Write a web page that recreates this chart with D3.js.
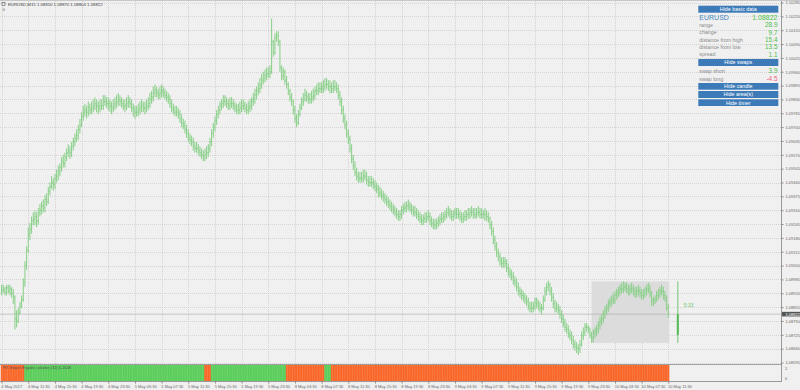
<!DOCTYPE html>
<html><head><meta charset="utf-8">
<script src="https://cdn.jsdelivr.net/npm/d3@7/dist/d3.min.js"></script>
<style>html,body{margin:0;padding:0;background:#f0f0f0;overflow:hidden}svg{display:block}text{font-family:"Liberation Sans",Arial,sans-serif}</style>
</head><body><svg id="c" width="800" height="390"></svg>
<script>
// ---------------- DATA ----------------
const symbol = "EURUSD", timeframe = "M15";
const titleOHLC = ["1.08850", "1.08870", "1.08804", "1.08822"];
const firstOpen = 1.0893;
const closes = [
1.08935,1.0894,1.08925,1.08945,1.0893,1.0894,1.0892,1.0890,1.0880,1.0879,
1.0883,1.0886,1.0889,1.0897,1.0905,1.0912,1.0920,1.0922,1.0926,1.0927,
1.0928,1.0926,1.0930,1.0931,1.0933,1.0932,1.0936,1.0935,1.0940,1.0942,
1.0944,1.0943,1.0946,1.0947,1.0949,1.0951,1.0954,1.0953,1.0956,1.0958,
1.0959,1.0958,1.0961,1.0963,1.0965,1.0966,1.0969,1.0971,1.0975,1.0977,
1.0978,1.0977,1.0979,1.0978,1.0979,1.0980,1.0981,1.0980,1.0979,1.0980,
1.0980,1.0982,1.0982,1.0981,1.0981,1.0980,1.0979,1.0980,1.0981,1.0982,
1.0983,1.0982,1.0981,1.0980,1.0980,1.0981,1.0982,1.0981,1.0979,1.0978,
1.0977,1.0977,1.0978,1.0979,1.0980,1.0979,1.0979,1.0980,1.0981,1.0983,
1.0984,1.0986,1.0987,1.0986,1.0985,1.0986,1.0987,1.0986,1.0985,1.0984,
1.0983,1.0981,1.0979,1.0978,1.0977,1.0977,1.0976,1.0974,1.0972,1.0971,
1.0969,1.0967,1.0965,1.0964,1.0963,1.0961,1.0960,1.0960,1.0959,1.0958,
1.0957,1.0956,1.0957,1.0958,1.0960,1.0963,1.0967,1.0970,1.0973,1.0976,
1.0978,1.0980,1.0981,1.0982,1.0982,1.0981,1.0980,1.0981,1.0981,1.0980,
1.0979,1.0978,1.0978,1.0979,1.0980,1.0980,1.0979,1.0978,1.0979,1.0980,
1.0982,1.0983,1.0985,1.0987,1.0988,1.0990,1.0992,1.0993,1.0994,1.0995,
1.0995,1.0996,1.1010,1.1005,1.1012,1.1013,1.1010,1.0998,1.0994,1.0996,
1.0992,1.0990,1.0987,1.0984,1.0982,1.0978,1.0974,1.0972,1.0976,1.0979,
1.0982,1.0983,1.0985,1.0984,1.0983,1.0983,1.0984,1.0985,1.0987,1.0987,
1.0988,1.0988,1.0988,1.0989,1.0990,1.0990,1.0989,1.0989,1.0988,1.0989,
1.0989,1.0988,1.0985,1.0982,1.0978,1.0974,1.0971,1.0967,1.0964,1.0960,
1.0955,1.0952,1.0949,1.0947,1.0946,1.0946,1.0946,1.0947,1.0947,1.0945,
1.0944,1.0944,1.0944,1.0943,1.0942,1.0941,1.0939,1.0939,1.0938,1.0937,
1.0936,1.0935,1.0934,1.0933,1.0932,1.0931,1.0930,1.0929,1.0928,1.0929,
1.0931,1.0932,1.0932,1.0933,1.0933,1.0932,1.0931,1.0930,1.0930,1.0929,
1.0928,1.0927,1.0926,1.0927,1.0927,1.0928,1.0928,1.0926,1.0925,1.0924,
1.0924,1.0925,1.0926,1.0927,1.0927,1.0928,1.0929,1.0930,1.0930,1.0929,
1.0928,1.0929,1.0930,1.0929,1.0929,1.0928,1.0927,1.0928,1.0928,1.0929,
1.0929,1.0930,1.0930,1.0929,1.0929,1.0930,1.0930,1.0929,1.0929,1.0929,
1.0929,1.0928,1.0927,1.0924,1.0921,1.0917,1.0914,1.0911,1.0909,1.0907,
1.0906,1.0907,1.0906,1.0904,1.0902,1.0901,1.0900,1.0898,1.0897,1.0895,
1.0893,1.0892,1.0891,1.0890,1.0889,1.0888,1.0886,1.0885,1.0885,1.0886,
1.0888,1.0887,1.0886,1.0885,1.0885,1.0889,1.0893,1.0895,1.0896,1.0893,
1.0890,1.0887,1.0885,1.0885,1.0884,1.0882,1.0880,1.0878,1.0876,1.0875,
1.0873,1.0872,1.0870,1.0868,1.0867,1.0866,1.0866,1.0868,1.0872,1.0874,
1.0876,1.0876,1.0875,1.08725,1.0871,1.0873,1.0874,1.0875,1.0877,1.0879,
1.0880,1.0882,1.0884,1.0885,1.0887,1.0888,1.0889,1.0889,1.0891,1.0892,
1.0893,1.0894,1.0894,1.0895,1.0895,1.0894,1.0893,1.0894,1.0894,1.0893,
1.0892,1.0893,1.0893,1.0892,1.0891,1.0892,1.0893,1.0894,1.0894,1.0892,
1.0889,1.0888,1.0889,1.0891,1.0892,1.0893,1.0893,1.0891,1.0890,1.0885,
1.08822];
const highs = [
1.0896,1.0896,1.0895,1.0896,1.0896,1.0896,1.0895,1.0894,1.0891,1.0884,
1.0885,1.0888,1.0891,1.0899,1.0907,1.0914,1.0923,1.0925,1.0928,1.0930,
1.0931,1.0930,1.0932,1.0934,1.0935,1.0936,1.0938,1.0939,1.0942,1.0944,
1.0947,1.0946,1.0948,1.0950,1.0952,1.0953,1.0956,1.0957,1.0958,1.0960,
1.0962,1.0961,1.0963,1.0965,1.0967,1.0969,1.0971,1.0974,1.0977,1.0980,
1.0981,1.0980,1.0982,1.0981,1.0982,1.0983,1.0984,1.0983,1.0982,1.0983,
1.0983,1.0985,1.0985,1.0984,1.0984,1.0983,1.0982,1.0983,1.0984,1.0985,
1.0986,1.0985,1.0984,1.0983,1.0983,1.0984,1.0985,1.0984,1.0983,1.0981,
1.0980,1.0980,1.0981,1.0982,1.0983,1.0982,1.0982,1.0983,1.0984,1.0986,
1.0987,1.0989,1.0990,1.0989,1.0988,1.0989,1.0990,1.0989,1.0988,1.0987,
1.0986,1.0985,1.0983,1.0981,1.0980,1.0980,1.0979,1.0978,1.0976,1.0974,
1.0973,1.0971,1.0969,1.0967,1.0966,1.0965,1.0963,1.0963,1.0962,1.0961,
1.0960,1.0959,1.0960,1.0961,1.0962,1.0965,1.0969,1.0972,1.0975,1.0978,
1.0980,1.0982,1.0983,1.0985,1.0985,1.0984,1.0983,1.0984,1.0984,1.0983,
1.0982,1.0981,1.0981,1.0982,1.0983,1.0983,1.0982,1.0981,1.0982,1.0983,
1.0984,1.0986,1.0988,1.0989,1.0991,1.0993,1.0995,1.0996,1.0997,1.0998,
1.0998,1.0999,1.1021,1.1011,1.1014,1.1015,1.1015,1.1011,1.0999,1.0998,
1.0997,1.0994,1.0991,1.0988,1.0986,1.0983,1.0980,1.0976,1.0978,1.0981,
1.0984,1.0986,1.0988,1.0987,1.0986,1.0986,1.0987,1.0988,1.0989,1.0990,
1.0991,1.0991,1.0991,1.0992,1.0993,1.0993,1.0992,1.0992,1.0991,1.0992,
1.0992,1.0991,1.0990,1.0987,1.0984,1.0980,1.0976,1.0973,1.0969,1.0966,
1.0962,1.0957,1.0954,1.0951,1.0949,1.0949,1.0949,1.0950,1.0950,1.0949,
1.0947,1.0947,1.0947,1.0946,1.0945,1.0944,1.0943,1.0942,1.0941,1.0940,
1.0939,1.0938,1.0937,1.0936,1.0935,1.0934,1.0933,1.0932,1.0931,1.0931,
1.0933,1.0934,1.0935,1.0935,1.0936,1.0935,1.0934,1.0933,1.0933,1.0932,
1.0931,1.0930,1.0929,1.0929,1.0930,1.0930,1.0931,1.0930,1.0928,1.0927,
1.0927,1.0927,1.0928,1.0929,1.0930,1.0930,1.0931,1.0932,1.0933,1.0932,
1.0931,1.0931,1.0932,1.0932,1.0932,1.0931,1.0930,1.0930,1.0931,1.0931,
1.0932,1.0932,1.0933,1.0932,1.0932,1.0932,1.0933,1.0932,1.0932,1.0931,
1.0932,1.0931,1.0930,1.0928,1.0926,1.0923,1.0919,1.0916,1.0913,1.0911,
1.0909,1.0909,1.0909,1.0908,1.0906,1.0904,1.0903,1.0902,1.0900,1.0899,
1.0897,1.0895,1.0894,1.0893,1.0892,1.0891,1.0890,1.0888,1.0888,1.0888,
1.0890,1.0890,1.0889,1.0888,1.0887,1.0891,1.0895,1.0897,1.0898,1.0897,
1.0895,1.0892,1.0889,1.0888,1.0887,1.0886,1.0884,1.0882,1.0880,1.0878,
1.0877,1.0875,1.0874,1.0872,1.0870,1.0869,1.0868,1.0870,1.0874,1.0876,
1.0878,1.0878,1.0877,1.0876,1.0874,1.0875,1.0876,1.0877,1.0879,1.0881,
1.0882,1.0884,1.0886,1.0887,1.0889,1.0890,1.0891,1.0892,1.0893,1.0894,
1.0895,1.0896,1.0897,1.08976,1.0897,1.0897,1.0896,1.0896,1.0897,1.0896,
1.0895,1.0895,1.0896,1.0895,1.0894,1.0894,1.0895,1.0896,1.0897,1.0896,
1.0893,1.0890,1.0891,1.0893,1.0894,1.0895,1.0896,1.0895,1.0893,1.0891,
1.0887];
const lows = [
1.0891,1.0892,1.0891,1.0891,1.0892,1.0891,1.0890,1.0887,1.0875,1.0876,
1.0878,1.0882,1.0885,1.0888,1.0895,1.0903,1.0911,1.0917,1.0920,1.0924,
1.0924,1.0923,1.0924,1.0928,1.0929,1.0930,1.0930,1.0933,1.0934,1.0938,
1.0941,1.0940,1.0941,1.0944,1.0945,1.0947,1.0949,1.0951,1.0951,1.0954,
1.0956,1.0955,1.0956,1.0959,1.0961,1.0963,1.0964,1.0967,1.0970,1.0973,
1.0975,1.0974,1.0975,1.0976,1.0976,1.0977,1.0978,1.0977,1.0976,1.0977,
1.0978,1.0978,1.0980,1.0979,1.0978,1.0977,1.0976,1.0977,1.0978,1.0979,
1.0980,1.0980,1.0979,1.0978,1.0977,1.0978,1.0979,1.0979,1.0977,1.0975,
1.0974,1.0975,1.0975,1.0976,1.0977,1.0977,1.0976,1.0977,1.0978,1.0979,
1.0981,1.0982,1.0984,1.0984,1.0983,1.0983,1.0984,1.0984,1.0983,1.0982,
1.0981,1.0979,1.0977,1.0976,1.0975,1.0975,1.0974,1.0972,1.0970,1.0969,
1.0967,1.0965,1.0963,1.0962,1.0961,1.0959,1.0958,1.0958,1.0957,1.0956,
1.0955,1.0954,1.0954,1.0955,1.0956,1.0958,1.0961,1.0965,1.0968,1.0971,
1.0974,1.0976,1.0978,1.0979,1.0980,1.0979,1.0978,1.0978,1.0979,1.0978,
1.0977,1.0976,1.0976,1.0976,1.0977,1.0978,1.0977,1.0976,1.0976,1.0977,
1.0978,1.0980,1.0981,1.0983,1.0985,1.0986,1.0988,1.0990,1.0991,1.0992,
1.0993,1.0993,1.0995,1.1003,1.1004,1.1010,1.1008,1.0996,1.0992,1.0992,
1.0990,1.0988,1.0985,1.0982,1.0980,1.0976,1.0972,1.0970,1.0971,1.0975,
1.0978,1.0980,1.0982,1.0982,1.0981,1.0981,1.0981,1.0982,1.0983,1.0985,
1.0985,1.0986,1.0986,1.0986,1.0987,1.0988,1.0987,1.0986,1.0986,1.0986,
1.0987,1.0986,1.0983,1.0980,1.0976,1.0972,1.0969,1.0965,1.0962,1.0958,
1.0953,1.0950,1.0947,1.0945,1.0944,1.0944,1.0944,1.0944,1.0945,1.0943,
1.0942,1.0942,1.0942,1.0941,1.0940,1.0939,1.0937,1.0937,1.0936,1.0935,
1.0934,1.0933,1.0932,1.0931,1.0930,1.0929,1.0928,1.0927,1.0926,1.0926,
1.0927,1.0929,1.0930,1.0930,1.0931,1.0930,1.0929,1.0928,1.0928,1.0927,
1.0926,1.0925,1.0924,1.0924,1.0925,1.0925,1.0926,1.0924,1.0923,1.0922,
1.0922,1.0922,1.0923,1.0924,1.0925,1.0925,1.0926,1.0927,1.0928,1.0927,
1.0926,1.0926,1.0927,1.0927,1.0927,1.0926,1.0925,1.0925,1.0926,1.0926,
1.0927,1.0927,1.0928,1.0927,1.0927,1.0927,1.0928,1.0927,1.0927,1.0927,
1.0926,1.0926,1.0925,1.0922,1.0919,1.0915,1.0912,1.0909,1.0907,1.0905,
1.0904,1.0904,1.0904,1.0902,1.0900,1.0899,1.0898,1.0896,1.0895,1.0893,
1.0891,1.0890,1.0889,1.0888,1.0887,1.0886,1.0884,1.0883,1.0883,1.0883,
1.0884,1.0885,1.0884,1.0883,1.0882,1.0884,1.0888,1.0891,1.0893,1.0891,
1.0888,1.0885,1.0883,1.0883,1.0882,1.0880,1.0878,1.0876,1.0874,1.0873,
1.0871,1.0870,1.0868,1.0866,1.0865,1.0864,1.0863,1.0864,1.0867,1.0870,
1.0872,1.0874,1.0873,1.0871,1.08687,1.0869,1.0871,1.0872,1.0873,1.0875,
1.0877,1.0878,1.0880,1.0882,1.0883,1.0885,1.0886,1.0887,1.0887,1.0889,
1.0890,1.0891,1.0892,1.0892,1.0893,1.0892,1.0891,1.0891,1.0892,1.0891,
1.0890,1.0890,1.0891,1.0890,1.0889,1.0889,1.0890,1.0891,1.0892,1.0890,
1.0886,1.0886,1.0887,1.0888,1.0889,1.0890,1.0891,1.0889,1.0888,1.0884,
1.08804];
const timeLabels = ["4 May 2017","4 May 11:30","4 May 15:30","4 May 19:30","4 May 23:30",
 "5 May 03:30","5 May 07:30","5 May 11:30","5 May 15:30","5 May 19:30","5 May 23:30",
 "8 May 03:30","8 May 07:30","8 May 11:30","8 May 15:30","8 May 19:30","8 May 23:30",
 "9 May 03:30","9 May 07:30","9 May 11:30","9 May 15:30","9 May 19:30","9 May 23:30",
 "10 May 03:30","10 May 07:30","10 May 11:30"];
const timeLabelBars = [0,16,32,48,64,80,96,112,128,144,160,176,192,208,224,240,256,272,288,304,320,336,352,368,384,400];
const priceTicks = [1.10285,1.10220,1.10155,1.10090,1.10025,1.09960,1.09895,1.09830,1.09765,1.09700,
 1.09635,1.09570,1.09505,1.09440,1.09375,1.09310,1.09245,1.09180,1.09115,1.09050,1.08985,
 1.08920,1.08855,1.08790,1.08725,1.08660,1.08595];
// indicator signal runs: [firstBar, lastBar, signal]
const indicatorRuns = [[0,13,"down"],[14,121,"up"],[122,125,"down"],[126,170,"up"],[171,193,"down"],[194,197,"up"],[198,400,"down"]];
const indicatorLabel = "FX Sniper Ergodic volume (32) 0.2048";
const dayStartBar = 354;
const spread = 1.1, swapShort = 3.9, swapLong = -4.5;
const timerText = "5:33";
const buttonLabels = ["Hide basic data","Hide swaps","Hide candle","Hide area(s)","Hide timer"];

// ---------------- DRAW ----------------
const svg = d3.select("#c");
const plotRight = 781;
const x = d3.scaleLinear().domain([0, 400]).range([1.6, 668.3]);
const y = d3.scaleLinear().domain([1.08595, 1.10285]).range([362.5, 2.5]);
const yInd = d3.scaleLinear().domain([0, 1]).range([381, 365]);
const pip = 0.0001;

svg.append("rect").attr("width", 800).attr("height", 390).attr("fill", "#f0f0f0");

// grid
const grid = svg.append("g").attr("stroke", "#d3d3d3").attr("stroke-dasharray", "1,1").attr("shape-rendering", "crispEdges");
grid.selectAll("line.v").data(timeLabelBars).join("line")
  .attr("x1", d => Math.round(x(d)) + 0.5).attr("x2", d => Math.round(x(d)) + 0.5)
  .attr("y1", 1).attr("y2", 381);
grid.selectAll("line.h").data(priceTicks).join("line").attr("class","h")
  .attr("x1", 0).attr("x2", plotRight)
  .attr("y1", d => Math.round(y(d)) + 0.5).attr("y2", d => Math.round(y(d)) + 0.5);

// today's area box
const bars = closes.map((c, i) => ({ i, o: i === 0 ? firstOpen : closes[i - 1], h: highs[i], l: lows[i], c }));
const today = bars.filter(b => b.i >= dayStartBar);
const dayO = today[0].o, dayH = d3.max(today, b => b.h), dayL = d3.min(today, b => b.l), dayC = today[today.length - 1].c;
svg.append("rect")
  .attr("x", x(dayStartBar)).attr("width", x(400) + 1 - x(dayStartBar))
  .attr("y", y(dayH)).attr("height", y(dayL) - y(dayH))
  .attr("fill", "#dcdcdc");

// bid line
svg.append("line").attr("x1", 0).attr("x2", plotRight).attr("y1", y(dayC)).attr("y2", y(dayC))
  .attr("stroke", "#a8a8a8").attr("stroke-width", 0.6);

// OHLC bars
svg.append("g").selectAll("path").data(bars).join("path")
  .attr("d", b => {
    const xc = x(b.i);
    return `M${xc},${y(b.h)}V${y(b.l)}M${xc - 0.8},${y(b.o)}H${xc}M${xc},${y(b.c)}H${xc + 0.8}`;
  })
  .attr("fill", "none").attr("stroke", "#86cf86").attr("stroke-width", 1);

// candle widget + timer
const cx = x(400) + 9.5;
svg.append("line").attr("x1", cx).attr("x2", cx).attr("y1", y(dayH)).attr("y2", y(dayL)).attr("stroke", "#66c266").attr("stroke-width", 0.9);
svg.append("rect").attr("x", cx - 1).attr("width", 2).attr("y", y(Math.max(dayO, dayC))).attr("height", Math.abs(y(dayO) - y(dayC))).attr("fill", "#55b955");
svg.append("text").attr("x", cx + 6).attr("y", y(dayC) - 7).attr("font-size", 5).attr("fill", "#6cc86c").text(timerText);

// separator between main chart and indicator window
svg.append("line").attr("x1", 0).attr("x2", plotRight).attr("y1", 364.5).attr("y2", 364.5).attr("stroke", "#a0a0a0").attr("stroke-width", 1);

// indicator histogram
const indColor = { up: "#5ed45e", down: "#ff6a2b" }, indStripe = { up: "#4cc04c", down: "#ee5a1c" };
const indBars = [];
indicatorRuns.forEach(([a, b, s]) => { for (let i = a; i <= b; i++) indBars.push({ i, s, v: 1 }); });
const ind = svg.append("g");
ind.selectAll("rect").data(indBars).join("rect")
  .attr("x", d => x(d.i) - 0.84).attr("width", 1.68)
  .attr("y", d => yInd(d.v)).attr("height", d => yInd(0) - yInd(d.v))
  .attr("fill", d => indColor[d.s]);
ind.selectAll("line").data(indBars).join("line")
  .attr("x1", d => x(d.i) + 0.6).attr("x2", d => x(d.i) + 0.6)
  .attr("y1", d => yInd(d.v)).attr("y2", yInd(0))
  .attr("stroke", d => indStripe[d.s]).attr("stroke-width", 0.5);
svg.append("text").attr("x", 3).attr("y", 368.8).attr("font-size", 4).attr("fill", "#555").text(indicatorLabel);
svg.append("text").attr("x", 785).attr("y", yInd(1) + 4.5).attr("font-size", 4).attr("fill", "#555").text("1");
svg.append("text").attr("x", 785).attr("y", yInd(0) - 1.5).attr("font-size", 4).attr("fill", "#555").text("0");

// frame
svg.append("line").attr("x1", plotRight + 0.5).attr("x2", plotRight + 0.5).attr("y1", 0).attr("y2", 382).attr("stroke", "#9a9a9a");
svg.append("line").attr("x1", 0).attr("x2", plotRight + 0.5).attr("y1", 381.5).attr("y2", 381.5).attr("stroke", "#9a9a9a");
svg.append("line").attr("x1", 0).attr("x2", 800).attr("y1", 0.5).attr("y2", 0.5).attr("stroke", "#c8c8c8");

// price axis
const yAxis = svg.append("g").attr("transform", `translate(${plotRight + 0.5},0)`)
  .call(d3.axisRight(y).tickValues(priceTicks).tickFormat(d3.format(".5f")).tickSize(2).tickPadding(2));
yAxis.select(".domain").remove();
yAxis.selectAll("line").attr("stroke", "#888");
yAxis.selectAll("text").attr("font-size", 4).attr("fill", "#666").attr("font-family", '"Liberation Sans",Arial,sans-serif');

// current price label
svg.append("rect").attr("x", plotRight + 1).attr("width", 19).attr("y", y(dayC) - 2.3).attr("height", 4.6).attr("fill", "#555");
svg.append("text").attr("x", plotRight + 4.5).attr("y", y(dayC) + 1.4).attr("font-size", 4).attr("fill", "#fff").text(d3.format(".5f")(dayC));

// time axis
const xAxis = svg.append("g").attr("transform", "translate(0,381.5)")
  .call(d3.axisBottom(x).tickValues(timeLabelBars).tickFormat((d, i) => timeLabels[i]).tickSize(2).tickPadding(1.5));
xAxis.select(".domain").remove();
xAxis.selectAll("line").attr("stroke", "#888");
xAxis.selectAll("text").attr("text-anchor", "start").attr("dx", -0.8).attr("font-size", 4).attr("fill", "#666").attr("font-family", '"Liberation Sans",Arial,sans-serif');

// title
svg.append("rect").attr("x", 2).attr("y", 2.5).attr("width", 3).attr("height", 3).attr("fill", "none").attr("stroke", "#555").attr("stroke-width", 0.6);
svg.append("text").attr("x", 8).attr("y", 5.8).attr("font-size", 4.3).attr("fill", "#444")
  .text(`${symbol},${timeframe}  ${titleOHLC.join(" ")}`);
svg.append("text").attr("x", 2.5).attr("y", 10.8).attr("font-size", 4.3).attr("fill", "#555").text("0");

// info panel
const pX0 = 698.3, pX1 = 778.3;
const panel = svg.append("g");
function button(label, y0, y1) {
  panel.append("rect").attr("x", pX0).attr("y", y0).attr("width", pX1 - pX0).attr("height", y1 - y0).attr("fill", "#3d7bb8");
  panel.append("text").attr("x", (pX0 + pX1) / 2).attr("y", (y0 + y1) / 2 + 1.9).attr("text-anchor", "middle")
    .attr("font-size", 5.4).attr("fill", "#fff").text(label);
}
button(buttonLabels[0], 5.7, 12.7);
panel.append("text").attr("x", 699.3).attr("y", 19.8).attr("font-size", 7).attr("fill", "#4a86c2").text(symbol);
panel.append("text").attr("x", 777.5).attr("y", 19.8).attr("text-anchor", "end").attr("font-size", 7).attr("fill", "#4cbf4c").text(d3.format(".5f")(dayC));
const rows = [
  ["range", ((dayH - dayL) / pip).toFixed(1), 25],
  ["change", ((dayC - dayO) / pip).toFixed(1), 32.3],
  ["distance from high", ((dayH - dayC) / pip).toFixed(1), 39.7],
  ["distance from low", ((dayC - dayL) / pip).toFixed(1), 47],
  ["spread", spread.toFixed(1), 54.3]
];
rows.forEach(([l, v, cy]) => {
  panel.append("text").attr("x", 699.3).attr("y", cy + 1.9).attr("font-size", 5.3).attr("fill", "#8a8a8a").text(l);
  panel.append("text").attr("x", 777.5).attr("y", cy + 2.3).attr("text-anchor", "end").attr("font-size", 6.4).attr("fill", "#4cbf4c").text(v);
});
button(buttonLabels[1], 59, 66);
[["swap short", swapShort, 71], ["swap long", swapLong, 78.7]].forEach(([l, v, cy]) => {
  panel.append("text").attr("x", 699.3).attr("y", cy + 1.9).attr("font-size", 5.3).attr("fill", "#8a8a8a").text(l);
  panel.append("text").attr("x", 777.5).attr("y", cy + 2.3).attr("text-anchor", "end").attr("font-size", 6.4)
    .attr("fill", v < 0 ? "#ef5f80" : "#4cbf4c").text(v.toFixed(1));
});
button(buttonLabels[2], 83, 89.7);
button(buttonLabels[3], 91, 98);
button(buttonLabels[4], 99.3, 106);
</script></body></html>
